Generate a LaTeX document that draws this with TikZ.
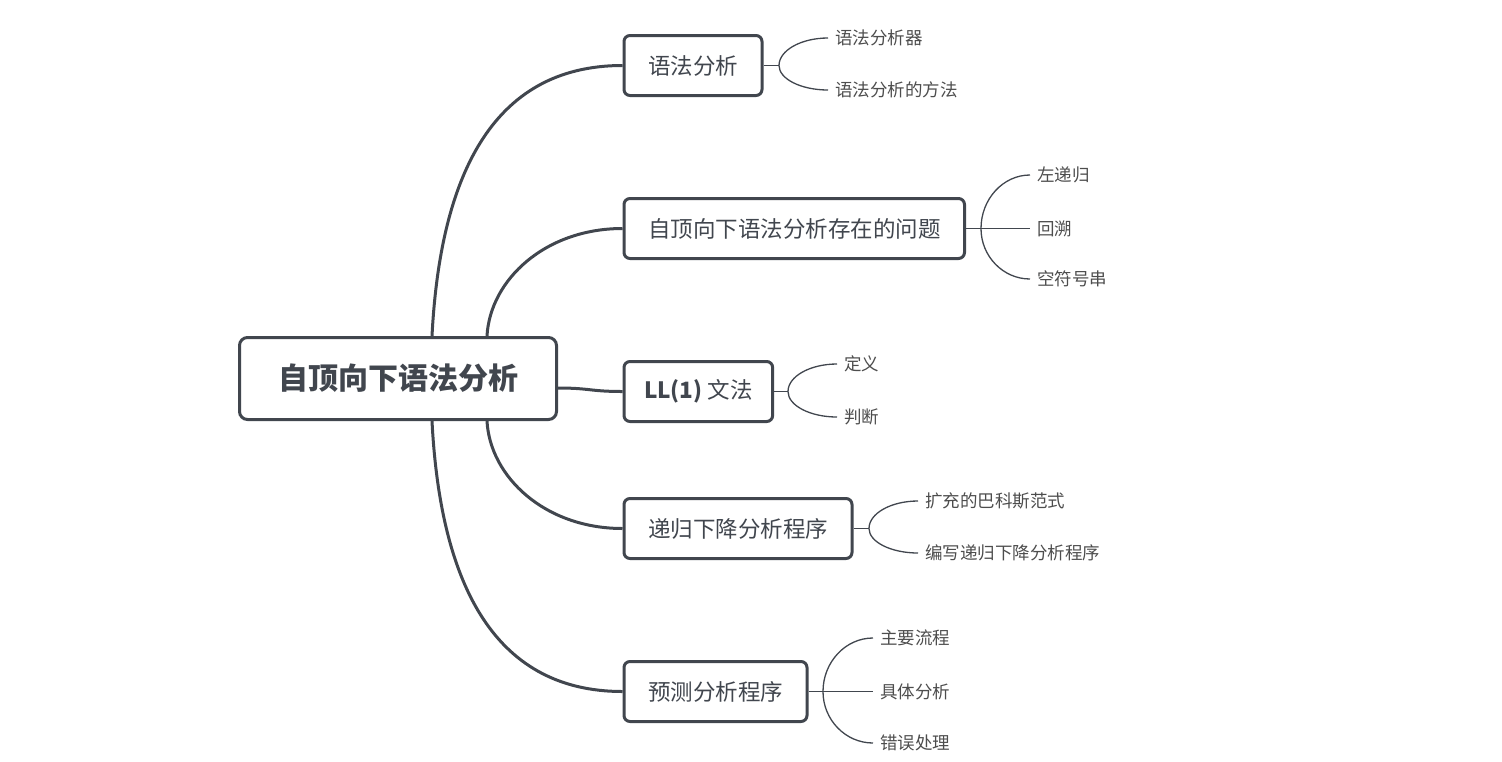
\documentclass[tikz,border=0pt]{standalone}
\usepackage{fontspec}
\setmainfont{Noto Sans CJK SC}
\usetikzlibrary{calc}
\definecolor{ink}{HTML}{41464E}
\definecolor{leaftxt}{HTML}{4D4D4D}
\newcommand\forkline[2]{%
  \draw[leaflink] (#1) .. controls ($(#1)!0.55!(#1 |- #2.west)$) and ($(#1 |- #2.west)!0.45!(#2.west)$) .. (#2.west);}
\begin{document}
\begin{tikzpicture}[x=1pt,y=-1pt,
  rootbox/.style={draw=ink,line width=3pt,rounded corners=8pt,fill=white,text=ink,
    minimum width=317pt,minimum height=82pt,font=\fontsize{30}{36}\selectfont\bfseries},
  branchbox/.style={draw=ink,line width=3pt,rounded corners=6pt,fill=white,text=ink,
    anchor=west,inner xsep=24pt,minimum height=60pt,font=\fontsize{22.5}{27}\selectfont},
  leaf/.style={anchor=west,inner xsep=7pt,inner ysep=2pt,text=leaftxt,font=\fontsize{17.5}{21}\selectfont},
  mainlink/.style={draw=ink,line width=3pt},
  leaflink/.style={draw=ink,line width=1.3pt}]
\useasboundingbox (0,0) rectangle (1502,761);

% root
\node[rootbox] (root) at (398,378.5) {自顶向下语法分析};

% branches
\node[branchbox] (b1) at (622.5,65.5) {语法分析};
\node[branchbox] (b2) at (622.5,228.5) {自顶向下语法分析存在的问题};
\node[branchbox,inner xsep=20pt] (b3) at (622.5,391.5) {\textbf{LL(1)} 文法};
\node[branchbox] (b4) at (622.5,528.5) {递归下降分析程序};
\node[branchbox] (b5) at (622.5,691.5) {预测分析程序};

% root connectors
\draw[mainlink] ([xshift=34pt]root.north) .. controls (440,180) and (490,65.5) .. (b1.west);
\draw[mainlink] ([xshift=89pt]root.north) .. controls (490,280) and (545,228.5) .. (b2.west);
\draw[mainlink] ([yshift=-9.5pt]root.east) .. controls (590,388) and (590,391.5) .. (b3.west);
\draw[mainlink] ([xshift=89pt]root.south) .. controls (490,477) and (545,528.5) .. (b4.west);
\draw[mainlink] ([xshift=34pt]root.south) .. controls (440,577) and (490,691.5) .. (b5.west);

% leaves
\node[leaf] (l1a) at (828,38) {语法分析器};
\node[leaf] (l1b) at (828,90) {语法分析的方法};
\node[leaf] (l2a) at (1030,175) {左递归};
\node[leaf] (l2b) at (1030,228.5) {回溯};
\node[leaf] (l2c) at (1030,279) {空符号串};
\node[leaf] (l3a) at (837,364) {定义};
\node[leaf] (l3b) at (837,417) {判断};
\node[leaf] (l4a) at (918,501) {扩充的巴科斯范式};
\node[leaf] (l4b) at (918,553) {编写递归下降分析程序};
\node[leaf] (l5a) at (873,638) {主要流程};
\node[leaf] (l5b) at (873,691.5) {具体分析};
\node[leaf] (l5c) at (873,743) {错误处理};

% forks
\coordinate (f1) at (779,65.5);
\coordinate (f2) at (981,228.5);
\coordinate (f3) at (788,391.5);
\coordinate (f4) at (869,528.5);
\coordinate (f5) at (823,691.5);

\draw[leaflink] (b1.east) -- (f1);
\forkline{f1}{l1a}
\forkline{f1}{l1b}

\draw[leaflink] (b2.east) -- (f2) -- (l2b.west);
\forkline{f2}{l2a}
\forkline{f2}{l2c}

\draw[leaflink] (b3.east) -- (f3);
\forkline{f3}{l3a}
\forkline{f3}{l3b}

\draw[leaflink] (b4.east) -- (f4);
\forkline{f4}{l4a}
\forkline{f4}{l4b}

\draw[leaflink] (b5.east) -- (f5) -- (l5b.west);
\forkline{f5}{l5a}
\forkline{f5}{l5c}
\end{tikzpicture}
\end{document}
